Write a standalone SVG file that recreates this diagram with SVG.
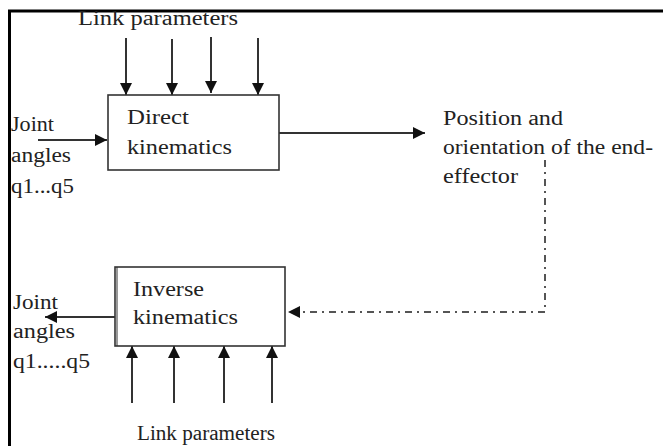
<svg xmlns="http://www.w3.org/2000/svg" width="663" height="446" viewBox="0 0 663 446">
<style>
text{font-family:"Liberation Serif","Times New Roman",serif;font-size:20px;fill:#222}
.box{fill:#fff;stroke:#333;stroke-width:1.6}
.ln{stroke:#333;stroke-width:2;fill:none}
.dd{stroke:#555;stroke-width:2;fill:none;stroke-dasharray:7 5 2 5}
.frame{stroke:#000;stroke-width:3;fill:none}
</style>
<defs>
<marker id="ah" viewBox="0 0 12 12" refX="12" refY="6" markerWidth="12" markerHeight="12" markerUnits="userSpaceOnUse" orient="auto">
<path d="M0,0 L12,6 L0,12 Z" fill="#111"/>
</marker>
</defs>
<rect width="663" height="446" fill="#fff"/>
<path class="frame" d="M9.5,446 V11 H663"/>
<g id="connectors">
<line class="ln" x1="126" y1="38" x2="126" y2="95" marker-end="url(#ah)"/>
<line class="ln" x1="172" y1="39" x2="172" y2="95" marker-end="url(#ah)"/>
<line class="ln" x1="211" y1="37" x2="211" y2="93" marker-end="url(#ah)"/>
<line class="ln" x1="258" y1="38" x2="258" y2="95" marker-end="url(#ah)"/>
<line class="ln" x1="38" y1="140" x2="107" y2="140" marker-end="url(#ah)"/>
<line class="ln" x1="279" y1="133" x2="425" y2="133" marker-end="url(#ah)"/>
<path class="dd" d="M545,160 V312 H288" marker-end="url(#ah)"/>
<line class="ln" x1="115" y1="317" x2="45" y2="317" marker-end="url(#ah)"/>
<line class="ln" x1="132" y1="403" x2="132" y2="346" marker-end="url(#ah)"/>
<line class="ln" x1="174" y1="403" x2="174" y2="346" marker-end="url(#ah)"/>
<line class="ln" x1="224" y1="403" x2="224" y2="346" marker-end="url(#ah)"/>
<line class="ln" x1="272" y1="403" x2="272" y2="346" marker-end="url(#ah)"/>
</g>
<g id="direct">
<rect class="box" x="108" y="95" width="171" height="75"/>
<text x="127" y="124" textLength="62" lengthAdjust="spacingAndGlyphs">Direct</text>
<text x="127" y="154" textLength="105" lengthAdjust="spacingAndGlyphs">kinematics</text>
</g>
<g id="inverse">
<rect class="box" x="115" y="267" width="170" height="79"/>
<line x1="117" y1="267" x2="117" y2="346" stroke="#333" stroke-width="1"/>
<text x="133" y="296" textLength="71" lengthAdjust="spacingAndGlyphs">Inverse</text>
<text x="133" y="324" textLength="105" lengthAdjust="spacingAndGlyphs">kinematics</text>
</g>
<g id="link-top">
<text x="78" y="25" textLength="160" lengthAdjust="spacingAndGlyphs">Link parameters</text>
</g>
<g id="link-bottom">
<text x="137" y="440" textLength="138" lengthAdjust="spacingAndGlyphs">Link parameters</text>
</g>
<g id="joint-in">
<text x="11" y="131" textLength="43" lengthAdjust="spacingAndGlyphs">Joint</text>
<text x="11" y="162" textLength="60" lengthAdjust="spacingAndGlyphs">angles</text>
<text x="11" y="193" textLength="63" lengthAdjust="spacingAndGlyphs">q1...q5</text>
</g>
<g id="joint-out">
<text x="13" y="309" textLength="45" lengthAdjust="spacingAndGlyphs">Joint</text>
<text x="13" y="338" textLength="62" lengthAdjust="spacingAndGlyphs">angles</text>
<text x="13" y="368" textLength="77" lengthAdjust="spacingAndGlyphs">q1.....q5</text>
</g>
<g id="position">
<text x="443" y="125" textLength="120" lengthAdjust="spacingAndGlyphs">Position and</text>
<text x="443" y="154" textLength="210" lengthAdjust="spacingAndGlyphs">orientation of the end-</text>
<text x="443" y="183" textLength="75" lengthAdjust="spacingAndGlyphs">effector</text>
</g>
</svg>
